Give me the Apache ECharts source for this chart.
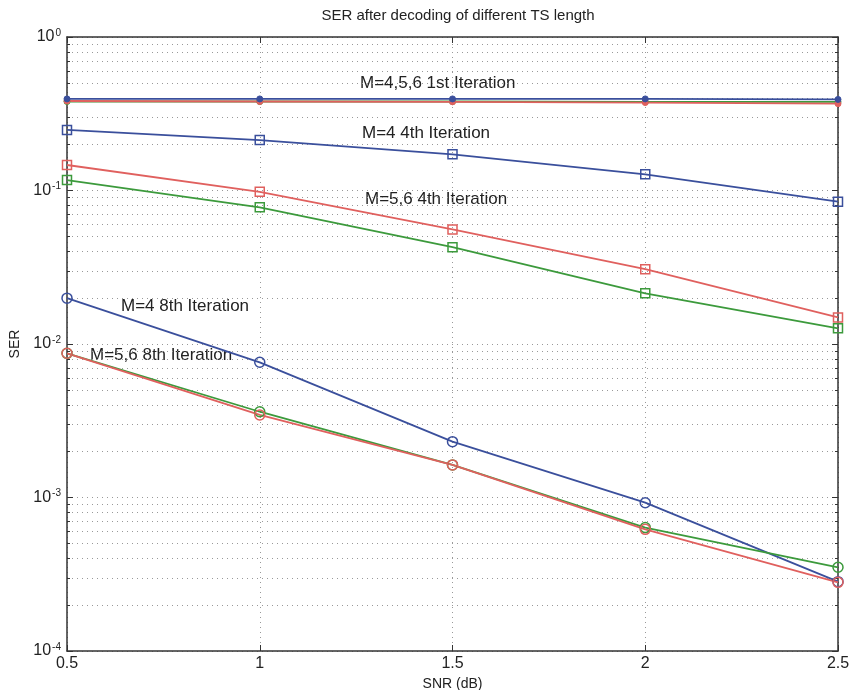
<!DOCTYPE html>
<html>
<head>
<meta charset="utf-8">
<script src="https://cdn.jsdelivr.net/npm/echarts@6/dist/echarts.min.js"></script>
<style>
  html, body { margin: 0; padding: 0; background: #fff; }
  #main { width: 853px; height: 690px; }
</style>
</head>
<body>
<div id="main"></div>
<script>
// SNR points (dB)
const snr = [0.5, 1, 1.5, 2, 2.5];

// 1st iteration (M=4,5,6)
const m4Iter1 = [0.395, 0.395, 0.395, 0.395, 0.392];
const m5Iter1 = [0.383, 0.380, 0.378, 0.374, 0.368];
const m6Iter1 = [0.380, 0.380, 0.380, 0.378, 0.378];

// 4th iteration
const m4Iter4 = [0.248, 0.213, 0.172, 0.1275, 0.0845];
const m5Iter4 = [0.1466, 0.098, 0.0558, 0.0307, 0.0149];
const m6Iter4 = [0.117, 0.0777, 0.0427, 0.0214, 0.01265];

// 8th iteration
const m4Iter8 = [0.0199, 0.0076, 0.00231, 0.000925, 0.000283];
const m5Iter8 = [0.0087, 0.00345, 0.00163, 0.00062, 0.00028];
const m6Iter8 = [0.00869, 0.00362, 0.00163, 0.000637, 0.000351];

const xTicks = [0.5, 1, 1.5, 2, 2.5];
const yDecades = [1e-4, 1e-3, 1e-2, 1e-1, 1];
const minorMult = [2, 3, 4, 5, 6, 7, 8, 9];

const BLUE = "#3a4f9c";
const RED = "#e0605e";
const GREEN = "#3c9a3c";

// minor grid values 2e-4 ... 9e-1
const yMinor = [];
yDecades.slice(0, 4).forEach(d => minorMult.forEach(m => yMinor.push(+(d * m).toPrecision(3))));

function pairs(ys) {
  return snr.map((x, i) => [x, ys[i]]);
}

const myChart = echarts.init(document.getElementById("main"));

function line(name, ys, color, symbol, size, filled) {
  return {
    name: name,
    type: "line",
    data: pairs(ys),
    symbol: symbol,
    symbolSize: size,
    showSymbol: true,
    lineStyle: { color: color, width: 1.8 },
    itemStyle: filled
      ? { color: color, borderColor: color, borderWidth: 1 }
      : { color: "rgba(0,0,0,0)", borderColor: color, borderWidth: 1.5 },
    emphasis: { disabled: true },
    z: 5
  };
}

const fontFam = "Liberation Sans, Arial, sans-serif";
const annFont = "17px " + fontFam;

const yLabelFmt = v => "{b|10}{s|" + Math.round(Math.log10(v)) + "}";

const option = {
  animation: false,
  backgroundColor: "#fff",
  title: {
    text: "SER after decoding of different TS length",
    left: 453,
    textAlign: "center",
    top: 3,
    textStyle: { fontFamily: fontFam, fontSize: 15, fontWeight: "normal", color: "#222" }
  },
  grid: { left: 67, right: 15, top: 37, bottom: 39, outerBoundsMode: "none", containLabel: false },
  xAxis: [
    {
      type: "value",
      min: 0.5,
      max: 2.5,
      interval: 0.5,
      position: "bottom",
      name: "SNR (dB)",
      nameLocation: "middle",
      nameGap: 25,
      nameTextStyle: { fontFamily: fontFam, fontSize: 14, color: "#222" },
      axisLine: { show: true, onZero: false, lineStyle: { color: "#333", width: 1.5 } },
      axisTick: { show: true, inside: true, length: 6, lineStyle: { color: "#333" } },
      axisLabel: {
        fontFamily: fontFam, fontSize: 16, color: "#222", margin: 5,
        customValues: xTicks,
        formatter: v => String(v)
      },
      splitLine: { show: true, lineStyle: { color: "#999", type: [1, 4], width: 1 } }
    },
    {
      type: "value",
      min: 0.5,
      max: 2.5,
      interval: 0.5,
      position: "top",
      axisLine: { show: true, onZero: false, lineStyle: { color: "#333", width: 1.5 } },
      axisTick: { show: true, inside: true, length: 6, lineStyle: { color: "#333" } },
      axisLabel: { show: false },
      splitLine: { show: false }
    }
  ],
  yAxis: [
    {
      type: "log",
      logBase: 10,
      min: 1e-4,
      max: 1,
      position: "left",
      name: "SER",
      nameLocation: "middle",
      nameGap: 40,
      nameRotate: 90,
      nameTextStyle: { fontFamily: fontFam, fontSize: 14, color: "#222" },
      axisLine: { show: true, onZero: false, lineStyle: { color: "#333", width: 1.5 } },
      axisTick: { show: true, inside: true, length: 6, lineStyle: { color: "#333" } },
      axisLabel: {
        margin: 6,
        formatter: yLabelFmt,
        rich: {
          b: { fontFamily: fontFam, fontSize: 16, color: "#222", lineHeight: 18 },
          s: { fontFamily: fontFam, fontSize: 10, color: "#222", verticalAlign: "top", lineHeight: 10, padding: [0, 0, 9, 1] }
        }
      },
      splitLine: { show: true, lineStyle: { color: "#999", type: [1, 4], width: 1 } }
    },
    {
      // minor ticks and dotted minor grid, left side
      type: "log",
      logBase: 10,
      min: 1e-4,
      max: 1,
      position: "left",
      axisLine: { show: false },
      axisTick: { show: true, inside: true, length: 3, customValues: yMinor, lineStyle: { color: "#333" } },
      axisLabel: { show: false, customValues: yMinor },
      splitLine: { show: true, lineStyle: { color: "#999", type: [1, 4], width: 1 } }
    },
    {
      // right frame with major ticks
      type: "log",
      logBase: 10,
      min: 1e-4,
      max: 1,
      position: "right",
      axisLine: { show: true, onZero: false, lineStyle: { color: "#333", width: 1.5 } },
      axisTick: { show: true, inside: true, length: 6, lineStyle: { color: "#333" } },
      axisLabel: { show: false },
      splitLine: { show: false }
    },
    {
      // right side minor ticks
      type: "log",
      logBase: 10,
      min: 1e-4,
      max: 1,
      position: "right",
      axisLine: { show: false },
      axisTick: { show: true, inside: true, length: 3, customValues: yMinor, lineStyle: { color: "#333" } },
      axisLabel: { show: false, customValues: yMinor },
      splitLine: { show: false }
    }
  ],
  graphic: [
    { type: "text", left: 360, top: 75, style: { text: "M=4,5,6 1st Iteration", font: annFont, fill: "#222" } },
    { type: "text", left: 362, top: 125, style: { text: "M=4 4th Iteration", font: annFont, fill: "#222" } },
    { type: "text", left: 365, top: 191, style: { text: "M=5,6 4th Iteration", font: annFont, fill: "#222" } },
    { type: "text", left: 121, top: 298, style: { text: "M=4 8th Iteration", font: annFont, fill: "#222" } },
    { type: "text", left: 90, top: 347, style: { text: "M=5,6 8th Iteration", font: annFont, fill: "#222" } }
  ],
  series: [
    line("M=6 1st", m6Iter1, GREEN, "circle", 6, true),
    line("M=5 1st", m5Iter1, RED, "circle", 6, true),
    line("M=4 1st", m4Iter1, BLUE, "circle", 6, true),
    line("M=4 4th", m4Iter4, BLUE, "rect", 9, false),
    line("M=5 4th", m5Iter4, RED, "rect", 9, false),
    line("M=6 4th", m6Iter4, GREEN, "rect", 9, false),
    line("M=4 8th", m4Iter8, BLUE, "circle", 10, false),
    line("M=6 8th", m6Iter8, GREEN, "circle", 10, false),
    line("M=5 8th", m5Iter8, RED, "circle", 10, false)
  ]
};

myChart.setOption(option);
window.addEventListener("resize", () => {
  myChart.resize();
});
</script>
</body>
</html>
